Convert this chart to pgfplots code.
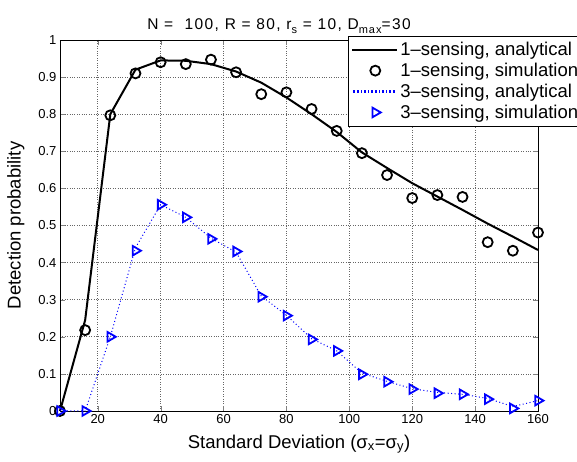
\documentclass[border=0pt]{standalone}
\usepackage{pgfplots}
\pgfplotsset{compat=1.18}
\usepackage{fontspec}
\setmainfont{Liberation Sans}
\newfontfamily\titlefont[LetterSpace=9]{Liberation Sans}
\definecolor{mblue}{RGB}{0,0,255}

\pgfplotsset{
  longline/.style={legend image code/.code={%
    \path[draw=none,fill=none] (0pt,-5pt) rectangle (45pt,5pt);
    \draw[##1] (0pt,0pt) -- (45pt,0pt);}},
  dotline/.style={legend image code/.code={%
    \path[draw=none,fill=none] (0pt,-5pt) rectangle (45pt,5pt);
    \foreach \k in {1,...,12}{\fill[fill=mblue, draw=none] (3.6*\k pt-2.4pt,-1.2pt) rectangle (3.6*\k pt-0.9pt,1.2pt);}}},
  midmark/.style={legend image code/.code={%
    \path[draw=none,fill=none] (0pt,-5pt) rectangle (45pt,5pt);
    \draw[##1] plot coordinates {(23pt,0pt)};}},
}

\begin{document}
\begin{tikzpicture}
\begin{axis}[
    scale only axis,
    width=478pt, height=371pt,
    xmin=8, xmax=160,
    ymin=0, ymax=1,
    xtick={20,40,...,160},
    ytick={0,0.1,...,1},
    yticklabels={0,0.1,0.2,0.3,0.4,0.5,0.6,0.7,0.8,0.9,1},
    tick align=inside,
    tick pos=both,
    major tick length=5pt,
    xmajorgrids, ymajorgrids,
    grid style={black!60, dotted, line width=0.6pt},
    axis line style={line width=0.8pt},
    /pgf/number format/assume math mode=true,
    tick label style={font=\fontsize{13}{15}\selectfont},
    xlabel={Standard Deviation (σ\textsubscript{x}=σ\textsubscript{y})},
    ylabel={Detection probability},
    label style={font=\fontsize{18.5}{21}\selectfont},
    xlabel style={yshift=-4pt},
    ylabel style={yshift=7pt},
    title={N =\ \ 100, R = 80, r\raisebox{-3.5pt}{\fontsize{11}{12}\titlefont s} = 10, D\raisebox{-3.5pt}{\fontsize{11}{12}\titlefont max}=30},
    title style={font=\fontsize{15.5}{17}\titlefont, yshift=-3pt, xshift=-20pt},
    legend style={at={(0.6025,1.0108)}, anchor=north west,
        font=\fontsize{18.5}{21}\selectfont, draw=black, line width=0.6pt,
        inner xsep=3pt, inner ysep=4pt, row sep=2pt},
    legend cell align=left,
    clip=false,
]
\addplot[black, line width=2pt, longline] coordinates {
 (8,0) (16,0.245) (24,0.80) (32,0.92) (40,0.945) (48,0.944) (56,0.935)
 (64,0.915) (72,0.885) (80,0.845) (88,0.80) (96,0.752) (104,0.697)
 (112,0.655) (120,0.614) (128,0.578) (136,0.542) (144,0.505) (152,0.47) (160,0.434)
};
\addlegendentry{1\textendash sensing, analytical}

\addplot[black, only marks, mark=o, mark size=5pt, mark options={line width=1.8pt}, midmark] coordinates {
 (8,0) (16,0.218) (24,0.797) (32,0.91) (40,0.94) (48,0.935) (56,0.947)
 (64,0.913) (72,0.854) (80,0.859) (88,0.814) (96,0.755) (104,0.695)
 (112,0.636) (120,0.574) (128,0.582) (136,0.577) (144,0.455) (152,0.432) (160,0.481)
};
\addlegendentry{1\textendash sensing, simulation}

\addplot[mblue, line width=1pt, dash pattern=on 1pt off 2.5pt, dotline] coordinates {
 (8,0) (16,0) (24,0.20) (32,0.44) (40,0.556) (48,0.522) (56,0.466)
 (64,0.428) (72,0.31) (80,0.258) (88,0.195) (96,0.162) (104,0.102)
 (112,0.08) (120,0.06) (128,0.05) (136,0.045) (144,0.034) (152,0.012) (160,0.028)
};
\addlegendentry{3\textendash sensing, analytical}

\addplot[mblue, only marks, mark=triangle, mark size=5.5pt, mark options={rotate=-90, line width=1.8pt}, midmark] coordinates {
 (8,0) (16,0) (24,0.20) (32,0.432) (40,0.556) (48,0.522) (56,0.464)
 (64,0.43) (72,0.308) (80,0.257) (88,0.193) (96,0.162) (104,0.099)
 (112,0.079) (120,0.059) (128,0.048) (136,0.045) (144,0.032) (152,0.007) (160,0.028)
};
\addlegendentry{3\textendash sensing, simulation}
\end{axis}
\pgfresetboundingbox
\path (current axis.south west) ++(-60pt,-51pt) rectangle ++(577pt,462pt);
\end{tikzpicture}
\end{document}
